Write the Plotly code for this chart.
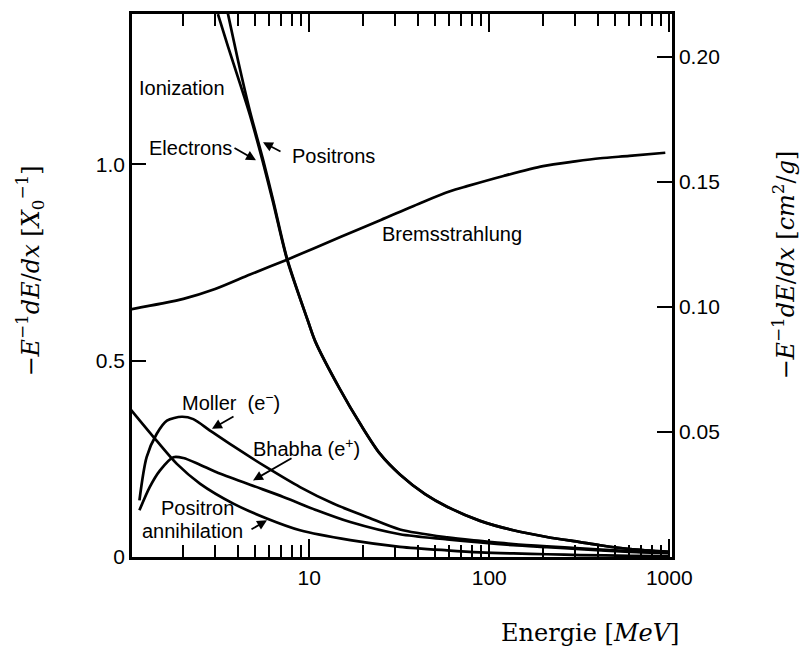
import plotly.graph_objects as go

# Energy (MeV) and fractional energy loss per radiation length, -E^-1 dE/dx [X0^-1]
ion_energy = [3.11, 3.54, 4.0, 4.69, 5.53, 6.29, 7.53, 9.85, 10.8, 14.7, 19.5, 24.7,
              31.9, 44.0, 58.3, 88.9, 136, 209, 319, 413, 606, 1000]
ion_electrons = [1.382, 1.299, 1.224, 1.124, 1.005, 0.904, 0.757, 0.600, 0.549, 0.430,
                 0.334, 0.263, 0.210, 0.160, 0.128, 0.092, 0.068, 0.051, 0.038, 0.030,
                 0.020, 0.013]
ion_positrons = [1.499, 1.382, 1.269, 1.134, 1.013, 0.910, 0.760, 0.600, 0.549, 0.430,
                 0.334, 0.263, 0.210, 0.160, 0.128, 0.092, 0.068, 0.051, 0.038, 0.030,
                 0.020, 0.013]

brems_energy = [1.0, 1.5, 2.0, 3.0, 4.69, 7.53, 15, 25, 42.9, 60.6, 75.3, 120, 199,
                300, 413, 600, 950]
brems_loss = [0.630, 0.645, 0.657, 0.682, 0.719, 0.757, 0.815, 0.858, 0.904, 0.931,
              0.944, 0.970, 0.995, 1.007, 1.015, 1.021, 1.029]

moller_energy = [1.14, 1.25, 1.42, 1.62, 1.96, 2.27, 2.81, 3.79, 5.81, 8.89, 13.6,
                 20.9, 31.9, 58.3, 88.9, 136, 209, 319, 606, 1000]
moller_loss = [0.144, 0.254, 0.313, 0.347, 0.357, 0.351, 0.322, 0.282, 0.228, 0.178,
               0.136, 0.102, 0.070, 0.050, 0.041, 0.033, 0.027, 0.022, 0.015, 0.011]

bhabha_energy = [1.14, 1.30, 1.48, 1.76, 2.0, 2.47, 3.06, 4.69, 7.18, 11.0, 16.9,
                 31.9, 58.3, 88.9, 136, 209, 319, 606, 1000]
bhabha_loss = [0.119, 0.178, 0.220, 0.254, 0.252, 0.235, 0.216, 0.184, 0.153, 0.119,
               0.089, 0.058, 0.045, 0.037, 0.030, 0.025, 0.020, 0.013, 0.010]

annih_energy = [1.0, 1.42, 1.84, 2.47, 3.79, 5.81, 8.89, 16.9, 31.9, 58.3, 88.9, 136,
                209, 319, 606, 1000]
annih_loss = [0.380, 0.296, 0.237, 0.187, 0.136, 0.098, 0.068, 0.043, 0.026, 0.017,
              0.012, 0.009, 0.007, 0.005, 0.003, 0.002]

x_major = [10, 100, 1000]
x_minor = [2, 3, 4, 5, 6, 7, 8, 9, 20, 30, 40, 50, 60, 70, 80, 90,
           200, 300, 400, 500, 600, 700, 800, 900]
left_ticks = [0, 0.5, 1.0]
left_labels = ["0", "0.5", "1.0"]
right_ticks = [0.05, 0.10, 0.15, 0.20]
right_labels = ["0.05", "0.10", "0.15", "0.20"]

# radiation length of lead, g/cm^2: converts X0^-1 to cm^2/g on the right axis
X0_LEAD = 6.37
Y_RANGE = [0, 1.3823]

# plot frame in pixels
L, R, T, B = 132, 672, 11, 557
W, H = 800, 653

SANS = "Liberation Sans, Arial, sans-serif"
SERIF = "DejaVu Serif, Liberation Serif, serif"
LINE = dict(color="black", width=2.7, shape="spline", smoothing=0.8)

fig = go.Figure()
for xs, ys in [(ion_energy, ion_electrons), (ion_energy, ion_positrons),
               (brems_energy, brems_loss), (moller_energy, moller_loss),
               (bhabha_energy, bhabha_loss), (annih_energy, annih_loss)]:
    fig.add_trace(go.Scatter(x=xs, y=ys, mode="lines", line=LINE,
                             hoverinfo="skip", showlegend=False))
# empty trace so the cm^2/g axis on the right is drawn
fig.add_trace(go.Scatter(x=[], y=[], yaxis="y2", mode="lines",
                         hoverinfo="skip", showlegend=False))


def paper(px, py):
    return (px - L) / (R - L), (B - py) / (B - T)


def label(text, px, py, size=20):
    x, y = paper(px, py)
    fig.add_annotation(x=x, y=y, xref="paper", yref="paper", text=text,
                       showarrow=False, xanchor="center", yanchor="middle",
                       font=dict(family=SANS, size=size, color="black"))


def arrow(tail, head):
    x, y = paper(*head)
    fig.add_annotation(x=x, y=y, xref="paper", yref="paper", text="",
                       showarrow=True, ax=tail[0] - head[0], ay=tail[1] - head[1],
                       arrowhead=2, arrowsize=1.1, arrowwidth=1.8,
                       arrowcolor="black", standoff=0, startstandoff=0)


label("Ionization", 182, 85)
label("Electrons", 190, 146)
label("Positrons", 333, 154)
label("Bremsstrahlung", 452, 232)
label("Moller  (e<sup>−</sup>)", 231, 401)
label("Bhabha (e<sup>+</sup>)", 306, 447)
label("Positron", 197, 508)
label("annihilation", 192, 531)

arrow((233, 145), (256, 158))
arrow((282, 150), (263, 140))
arrow((235, 415), (212, 428))
arrow((293, 457), (253, 480))
arrow((250, 530), (267, 520))

# axis titles
title_left = "−<i>E</i><sup>−1</sup><i>dE</i>/<i>dx</i> [<i>X</i><sub>0</sub><sup>−1</sup>]"
title_right = "−<i>E</i><sup>−1</sup><i>dE</i>/<i>dx</i> [<i>cm</i><sup>2</sup>/<i>g</i>]"
for text, px, py in [(title_left, 30, 270), (title_right, 784, 264)]:
    x, y = paper(px, py)
    fig.add_annotation(x=x, y=y, xref="paper", yref="paper", text=text,
                       textangle=-90, showarrow=False, xanchor="center",
                       yanchor="middle", font=dict(family=SERIF, size=24, color="black"))
x, y = paper(590, 633)
fig.add_annotation(x=x, y=y, xref="paper", yref="paper",
                   text="Energie [<i>MeV</i>]", showarrow=False,
                   xanchor="center", yanchor="middle",
                   font=dict(family=SERIF, size=24, color="black"))

tickfont = dict(family=SANS, size=21, color="black")
fig.update_layout(
    width=W, height=H,
    margin=dict(l=L, r=W - R, t=T, b=H - B),
    paper_bgcolor="white", plot_bgcolor="white",
    showlegend=False,
    xaxis=dict(type="log", range=[0.0156, 3.015], tickvals=x_major,
               ticktext=[str(v) for v in x_major], ticks="inside", ticklen=18,
               tickwidth=2, tickcolor="black", showline=True, linewidth=2.5,
               linecolor="black", mirror="ticks", showgrid=False, zeroline=False,
               tickfont=tickfont,
               minor=dict(tickvals=x_minor, ticks="inside", ticklen=12,
                          tickwidth=2, tickcolor="black", showgrid=False)),
    yaxis=dict(range=Y_RANGE, tickvals=left_ticks, ticktext=left_labels,
               ticks="inside", ticklen=14, tickwidth=2, tickcolor="black",
               showline=True, linewidth=2.5, linecolor="black", mirror=False,
               showgrid=False, zeroline=False, tickfont=tickfont),
    yaxis2=dict(overlaying="y", side="right", anchor="x",
                range=[v / X0_LEAD for v in Y_RANGE],
                tickvals=right_ticks, ticktext=right_labels,
                ticks="inside", ticklen=15, tickwidth=2, tickcolor="black",
                showline=True, linewidth=2.5, linecolor="black",
                showgrid=False, zeroline=False, tickfont=tickfont),
)

fig.write_html("out.html")
